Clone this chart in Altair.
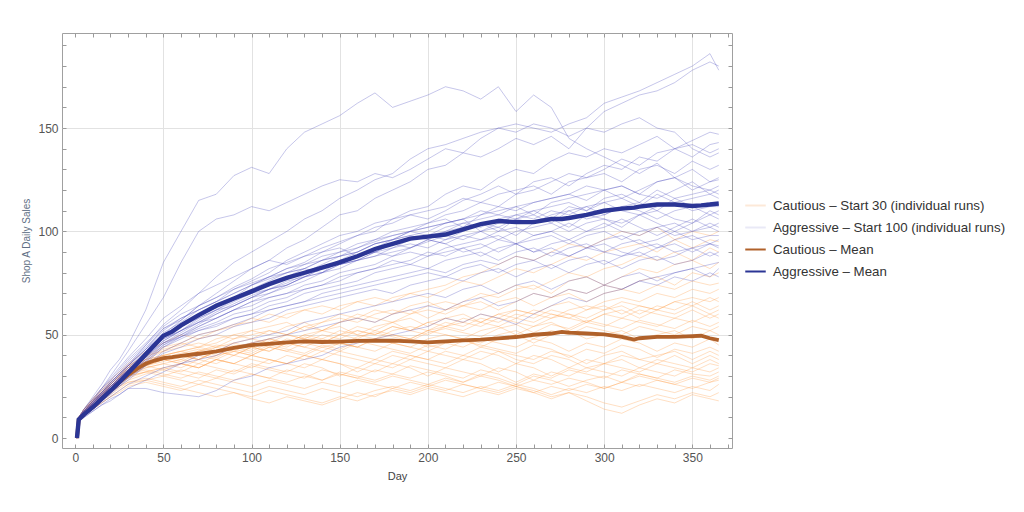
import altair as alt
import pandas as pd

# ---------------- data ----------------
DAYS = [1, 2, 5, 10, 15, 20, 25, 30,
        40, 50, 60, 70, 80, 90, 100,
        110, 120, 130, 140, 150, 160, 170, 180, 190, 200,
        210, 220, 230, 240, 250, 260, 270, 280, 290, 300,
        310, 320, 330, 340, 350, 360, 365]

CAUTIOUS_RUNS = [
    [0,9,13,18,23,27,31,35, 40,44,46,50,52,55,56, 60,58,62,64,62,66,68,66,70,72, 74,78,80,84,88,86,90,94,92,96, 100,98,102,96,100,98,100],
    [0,10,14,19,24,28,32,36, 42,46,50,48,52,54,58, 56,60,62,60,64,66,64,68,70,68, 72,76,74,78,82,80,84,88,86,90, 92,94,90,96,92,96,95],
    [0,8,12,16,21,25,29,33, 38,42,44,46,44,48,50, 52,50,54,56,58,56,60,62,60,64, 66,64,68,70,74,72,76,80,78,82, 84,88,86,90,86,92,90],
    [0,9,13,17,22,26,30,34, 39,43,45,48,50,48,52, 54,56,52,56,60,58,62,60,64,66, 62,66,70,68,72,74,70,76,78,74, 78,82,80,84,86,82,85],
    [0,9,12,16,20,24,28,32, 36,40,42,44,46,50,48, 52,50,54,52,56,58,56,60,62,58, 62,64,66,62,66,70,68,72,70,74, 72,76,78,74,80,78,80],
    [0,10,13,18,22,26,30,35, 40,42,46,44,48,50,52, 50,54,56,52,56,60,58,56,60,62, 60,64,62,66,68,64,68,70,66,70, 72,70,74,72,76,74,75],
    [0,8,11,15,19,23,27,31, 35,38,40,42,45,44,46, 48,46,50,52,50,54,52,56,58,54, 58,60,56,60,62,60,64,66,62,66, 68,66,70,68,72,70,72],
    [0,9,13,17,21,25,29,33, 37,40,42,40,44,46,44, 48,50,48,52,54,50,54,56,52,56, 58,56,60,58,62,60,58,62,64,62, 66,64,62,66,68,66,68],
    [0,9,12,16,20,24,28,31, 35,38,40,42,40,44,46, 44,48,46,50,48,52,50,54,52,56, 54,58,56,60,58,62,60,58,62,64, 60,64,62,66,64,68,66],
    [0,10,14,19,23,27,31,35, 38,40,38,42,44,42,46, 48,46,50,48,52,50,48,52,54,52, 56,54,58,56,60,58,62,60,58,62, 64,60,64,62,66,62,64],
    [0,8,12,16,20,24,28,32, 36,38,40,38,42,44,42, 46,44,48,46,50,48,52,50,48,52, 54,52,56,54,58,56,60,58,56,60, 62,58,62,60,64,60,62],
    [0,9,13,18,22,26,30,34, 38,40,42,44,42,46,48, 46,50,48,46,50,52,50,54,52,50, 54,56,54,58,56,54,58,60,56,60, 58,62,60,58,62,58,60],
    [0,9,12,16,20,24,27,31, 35,37,40,38,42,40,44, 42,46,44,48,46,44,48,50,48,52, 50,48,52,54,50,54,56,52,56,54, 58,56,54,58,56,60,58],
    [0,10,13,17,21,25,29,33, 37,39,41,43,41,45,43, 47,45,49,47,45,49,51,49,47,51, 53,51,49,53,55,51,55,53,57,55, 53,57,55,53,57,54,56],
    [0,8,11,15,19,23,26,30, 34,36,38,36,40,42,40, 44,42,46,44,42,46,48,46,44,48, 50,48,46,50,52,48,52,50,54,52, 50,54,52,50,54,52,54],
    [0,9,12,16,20,24,28,32, 36,38,36,40,38,42,40, 44,42,40,44,46,44,42,46,48,44, 46,48,44,48,50,46,50,52,48,50, 52,48,50,52,48,52,50],
    [0,9,13,17,21,25,29,33, 36,38,40,38,42,40,44, 42,46,44,42,46,44,48,46,44,42, 46,44,48,46,44,48,46,42,46,44, 48,46,42,46,44,48,45],
    [0,10,14,18,22,26,30,34, 37,39,37,41,39,43,41, 45,43,41,45,43,47,45,43,41,45, 43,47,45,43,41,45,43,39,43,41, 45,43,39,43,41,44,42],
    [0,8,11,15,19,22,26,29, 32,34,36,34,38,36,40, 38,36,40,38,42,40,38,42,40,38, 42,40,44,42,40,38,42,40,36,40, 42,38,40,42,38,42,40],
    [0,9,12,16,20,24,27,31, 34,36,34,38,36,40,38, 36,40,38,42,40,38,36,40,38,42, 40,38,42,40,36,40,38,34,38,36, 40,38,36,40,36,40,38],
    [0,9,13,17,21,25,28,32, 35,33,36,34,38,36,34, 38,36,40,38,36,34,38,36,40,38, 36,40,38,42,38,36,40,38,34,36, 38,34,38,36,34,38,36],
    [0,10,13,18,22,26,30,33, 36,38,36,34,38,36,40, 38,36,34,38,36,32,36,34,38,36, 34,38,36,32,36,34,30,34,32,36, 34,32,36,34,32,36,35],
    [0,8,12,16,19,23,26,30, 32,34,32,36,34,32,36, 34,32,36,34,30,34,32,36,34,30, 34,32,30,34,32,28,32,30,34,32, 30,34,32,30,34,32,34],
    [0,9,12,15,19,22,25,28, 31,33,31,29,33,31,35, 33,31,29,33,31,29,33,31,35,33, 31,29,33,31,27,31,29,33,31,29, 33,31,29,33,31,30,32],
    [0,9,13,17,20,24,27,30, 32,30,33,31,29,33,31, 29,33,31,28,32,30,28,31,29,32, 30,27,31,29,26,30,28,25,28,30, 27,31,29,27,30,28,30],
    [0,10,14,18,21,25,28,31, 33,31,29,32,30,28,31, 29,27,30,28,31,29,27,30,28,26, 29,27,30,28,25,28,26,29,27,24, 27,30,28,26,29,27,29],
    [0,8,11,14,17,20,23,26, 28,30,28,26,29,27,25, 28,26,24,27,25,28,26,24,27,25, 28,26,24,27,25,22,25,23,26,24, 27,25,28,26,24,27,28],
    [0,9,12,15,18,21,24,27, 29,27,25,28,26,24,22, 25,23,21,24,22,20,23,25,23,26, 24,22,25,23,26,24,21,24,22,25, 23,26,24,22,25,23,26],
    [0,9,11,14,17,20,22,25, 27,25,23,26,24,22,20, 23,21,19,17,20,18,21,23,21,24, 22,20,23,21,24,22,19,22,20,17, 15,18,21,19,22,20,22],
    [0,10,13,16,19,22,25,27, 28,26,24,22,20,22,19, 17,20,18,16,19,22,20,24,22,25, 23,26,24,22,25,23,20,22,18,14, 12,16,19,17,21,19,18],
]

AGGRESSIVE_RUNS = [
    [0,10,14,20,26,33,38,45, 62,85,100,115,118,127,131, 128,140,148,152,156,162,167,160,163,166, 170,168,164,170,158,166,160,145,140,136, 132,128,133,126,130,124,126],
    [0,9,13,18,24,30,36,42, 55,68,85,100,106,108,112, 110,114,118,122,125,124,128,126,130,135, 140,138,145,150,148,152,150,146,150,148, 152,155,150,148,140,136,138],
    [0,8,12,17,22,27,31,35, 45,55,62,70,78,85,90, 95,100,106,110,116,120,125,128,135,140, 142,145,148,150,152,150,148,152,155,162, 165,168,172,176,180,186,178],
    [0,9,12,16,20,24,29,33, 42,50,57,64,70,76,82, 86,92,96,102,108,110,116,120,124,130, 132,138,136,140,145,142,146,140,150,158, 162,166,168,172,178,182,180],
    [0,9,12,16,21,25,29,33, 41,49,54,60,65,68,74, 78,82,85,90,94,98,100,106,110,112, 118,122,120,126,130,128,134,138,136,140, 138,142,146,140,144,148,147],
    [0,8,11,15,19,23,27,31, 39,47,52,57,62,67,70, 74,78,82,80,86,90,94,96,100,104, 108,110,114,112,118,120,124,128,126,130, 135,132,138,140,136,142,143],
    [0,10,13,18,22,27,31,36, 44,52,58,62,66,72,76, 80,86,90,94,98,100,104,106,108,106, 110,115,118,122,118,124,126,122,128,132, 130,136,134,140,142,138,140],
    [0,9,12,17,21,26,30,35, 43,53,57,64,68,73,77, 82,85,88,92,95,98,102,104,108,110, 112,116,114,118,120,122,118,124,126,128, 124,130,132,128,134,130,132],
    [0,9,11,15,19,23,26,30, 37,45,50,55,60,64,68, 72,74,78,82,86,88,92,96,98,100, 104,106,108,112,110,114,116,118,115,120, 122,118,124,126,120,124,125],
    [0,8,12,16,20,25,29,34, 42,50,55,60,63,68,70, 75,78,80,84,88,90,94,96,100,102, 104,106,110,108,112,114,116,118,122,120, 116,120,124,126,122,120,122],
    [0,9,12,17,22,26,31,35, 43,51,56,62,66,70,74, 78,82,84,88,90,94,96,100,102,104, 106,102,108,110,112,108,114,116,118,120, 122,118,116,120,124,118,120],
    [0,10,14,19,24,28,33,38, 46,54,60,64,68,72,75, 78,80,82,86,88,92,95,98,100,98, 102,104,106,108,106,110,112,114,110,116, 118,114,120,116,118,120,118],
    [0,9,12,16,20,24,28,32, 40,47,52,56,61,65,69, 72,75,79,82,86,88,90,94,96,98, 100,104,102,106,108,110,106,112,110,114, 116,112,118,114,116,118,116],
    [0,8,11,15,19,22,26,30, 38,46,51,56,60,64,68, 70,74,78,80,84,86,90,92,96,98, 96,100,104,102,106,108,104,110,112,108, 112,114,110,116,112,114,114],
    [0,9,12,17,21,25,29,33, 41,49,55,59,64,68,72, 76,80,82,86,90,92,96,98,100,102, 104,106,100,104,108,106,110,108,112,114, 110,108,112,114,110,112,112],
    [0,9,13,18,23,28,32,37, 45,53,58,62,66,70,74, 77,80,84,86,88,90,94,96,98,96, 100,102,104,100,106,104,108,110,106,108, 112,110,106,110,112,108,110],
    [0,8,11,15,18,22,25,29, 36,44,49,54,58,62,66, 70,73,76,80,82,86,88,90,92,95, 98,96,100,102,98,104,106,102,108,106, 104,108,110,106,104,110,108],
    [0,9,12,16,20,24,28,32, 40,48,52,58,62,66,70, 72,76,78,82,84,86,88,92,94,92, 96,98,100,96,100,102,104,100,104,106, 102,108,104,100,104,108,106],
    [0,10,13,18,22,27,31,35, 43,50,54,58,62,64,68, 72,74,78,80,84,86,90,88,92,96, 94,98,96,100,102,98,100,104,100,102, 106,102,98,102,106,102,104],
    [0,9,12,16,21,25,28,32, 39,46,50,54,58,62,64, 68,70,74,76,80,82,84,88,90,88, 92,94,96,98,94,98,100,96,100,104, 100,98,102,104,100,104,102],
    [0,8,11,15,19,23,27,31, 38,45,49,53,56,60,62, 66,68,72,74,76,80,82,84,86,90, 88,92,94,90,94,96,98,94,98,100, 96,100,102,98,100,102,100],
    [0,9,13,17,22,26,30,34, 41,48,52,56,58,62,66, 68,70,72,74,78,80,82,86,84,88, 90,92,88,92,94,90,94,96,92,96, 98,94,96,100,96,98,98],
    [0,9,12,16,20,24,27,31, 37,44,48,52,55,58,60, 64,66,70,72,74,76,80,82,84,82, 86,88,90,86,90,92,88,92,94,90, 94,96,92,96,98,94,96],
    [0,8,11,14,18,21,25,28, 35,42,46,50,52,55,58, 62,64,66,70,72,74,76,78,80,82, 80,84,86,84,88,86,90,88,92,90, 88,92,94,90,92,94,93],
    [0,10,13,17,21,25,29,33, 40,46,49,52,54,58,60, 62,64,66,68,70,72,74,76,78,80, 78,82,84,80,84,86,82,86,88,84, 88,90,86,88,92,88,90],
    [0,9,12,15,19,22,26,29, 35,41,44,48,50,54,56, 58,62,64,66,68,70,72,70,74,76, 78,76,80,82,78,82,84,80,84,86, 82,86,88,84,86,90,88],
    [0,8,10,13,16,19,21,24, 24,22,21,20,23,28,30, 34,36,38,40,44,46,48,50,52,54, 58,56,60,58,55,60,64,68,66,70, 72,76,78,80,82,84,85],
    [0,9,11,14,17,20,23,26, 30,34,36,40,42,46,48, 50,52,56,58,60,62,64,66,68,70, 68,72,74,70,74,76,72,76,78,74, 78,80,76,80,82,78,82],
    [0,8,10,13,16,18,21,24, 28,32,36,38,40,44,46, 48,50,52,54,56,58,56,60,62,64, 62,66,68,64,66,70,68,72,70,74, 72,76,74,78,76,80,78],
    [0,10,14,19,24,29,34,39, 48,58,64,70,74,78,82, 86,84,88,90,92,88,90,94,92,96, 94,90,92,96,94,90,92,88,92,94, 90,88,92,94,90,94,92],
]

MEAN_DAYS = [1, 2, 5, 10, 15, 20, 25, 30, 35, 40, 45, 50, 55, 60, 70, 80, 90,
             100, 110, 120, 130, 140, 150, 160, 170, 180, 190, 200, 210, 220,
             230, 240, 250, 260, 270, 276, 280, 290, 300, 310, 317, 320, 330,
             340, 350, 355, 360, 365]
CAUTIOUS_MEAN = [0, 9, 11.5, 15, 19, 23, 27, 30.5, 33.5, 36, 37.5, 38.7, 39.2, 39.8,
                 40.8, 42, 43.6, 45, 45.6, 46.3, 46.8, 46.5, 46.7, 47, 47.1, 47.2,
                 46.8, 46.3, 46.8, 47.3, 47.6, 48.2, 48.9, 50, 50.6, 51.4, 51, 50.6,
                 50.2, 49, 47.7, 48.3, 49, 49, 49.3, 49.5, 48.3, 47.4]
AGGRESSIVE_MEAN = [0, 9, 11.5, 15, 19, 23, 27, 31.5, 36, 40.5, 45, 49.5, 51.5, 54.5,
                   59.5, 64, 67.5, 71, 74.5, 77.5, 80, 82.5, 85, 88, 91.5, 94, 96.5,
                   97.5, 98.5, 101, 103.5, 105, 104.5, 104.5, 106, 106, 106.5, 108,
                   110, 111, 111.5, 112, 113, 113, 112.3, 112.6, 113, 113.5]

SERIES = ["Cautious \u2013 Start 30 (individual runs)",
          "Aggressive \u2013 Start 100 (individual runs)",
          "Cautious \u2013 Mean",
          "Aggressive \u2013 Mean"]
SERIES_COLORS = ["#fde9d8", "#e9e9f6", "#b0612a", "#2b3595"]

X_MAJOR = [0, 50, 100, 150, 200, 250, 300, 350]
Y_MAJOR = [0, 50, 100, 150]
X_MINOR = list(range(0, 371, 10))
Y_MINOR = list(range(0, 191, 10))

# ---------------- build tables ----------------
run_rows = []
for grp, runs in (("c", CAUTIOUS_RUNS), ("a", AGGRESSIVE_RUNS)):
    for i, run in enumerate(runs):
        assert len(run) == len(DAYS), (grp, i, len(run))
        for d, v in zip(DAYS, run):
            run_rows.append({"day": d, "value": v, "run": f"{grp}{i}", "group": grp})
runs_df = pd.DataFrame(run_rows)

mean_rows = []
for name, vals in ((SERIES[2], CAUTIOUS_MEAN), (SERIES[3], AGGRESSIVE_MEAN)):
    assert len(vals) == len(MEAN_DAYS), name
    for d, v in zip(MEAN_DAYS, vals):
        mean_rows.append({"day": d, "value": v, "series": name})
mean_df = pd.DataFrame(mean_rows)

FONT = "Liberation Sans"
xs = alt.Scale(domain=[-7.5, 372.5], nice=False, zero=False)
ys = alt.Scale(domain=[-4.8, 196], nice=False, zero=False)

color_scale = alt.Scale(domain=SERIES, range=SERIES_COLORS)
legend = alt.Legend(orient="none", legendX=682, legendY=161, title=None,
                    symbolType="stroke", symbolStrokeWidth=2, symbolSize=420,
                    labelFont=FONT, labelFontSize=13.3, labelColor="#333333",
                    labelOffset=6, rowPadding=4, labelLimit=0, symbolOpacity=1)

# axes
x_labeled = alt.Axis(orient="bottom", values=X_MAJOR, grid=False, ticks=False, domain=False,
                     labelFont=FONT, labelFontSize=12, labelColor="#555555", labelPadding=4,
                     title="Day", titleFont=FONT, titleFontSize=11, titleFontWeight="normal",
                     titleColor="#444444", titlePadding=7)
y_labeled = alt.Axis(orient="left", values=Y_MAJOR, grid=False, ticks=False, domain=False,
                     labelFont=FONT, labelFontSize=12, labelColor="#555555", labelPadding=4,
                     title="Shop A Daily Sales", titleFont=FONT, titleFontSize=10,
                     titleFontWeight="normal", titleColor="#5f6f84", titlePadding=6)
x_grid = alt.Axis(orient="bottom", values=X_MAJOR[1:], grid=True, gridColor="#e2e2e2",
                  ticks=False, labels=False, domain=False, title=None)
y_grid = alt.Axis(orient="left", values=Y_MAJOR[1:], grid=True, gridColor="#e2e2e2",
                  ticks=False, labels=False, domain=False, title=None)


def tick_axis(orient, values):
    return alt.Axis(orient=orient, values=values, grid=False, labels=False, domain=False,
                    ticks=True, tickSize=4, tickColor="#9a9a9a", offset=-4, title=None)


base_x = dict(field="day", type="quantitative", scale=xs)
base_y = dict(field="value", type="quantitative", scale=ys)

cautious_runs = alt.Chart(runs_df).transform_filter("datum.group === 'c'").mark_line(
    color="#ff9a45", strokeWidth=0.9, strokeOpacity=0.36
).encode(
    x=alt.X(**base_x, axis=x_labeled),
    y=alt.Y(**base_y, axis=y_labeled),
    detail="run:N",
)

aggressive_runs = alt.Chart(runs_df).transform_filter("datum.group === 'a'").mark_line(
    color="#4444bb", strokeWidth=0.9, strokeOpacity=0.34
).encode(
    x=alt.X(**base_x, axis=x_grid),
    y=alt.Y(**base_y, axis=y_grid),
    detail="run:N",
)

cautious_mean = alt.Chart(mean_df).transform_filter(
    alt.datum.series == SERIES[2]
).mark_line(strokeWidth=3.8).encode(
    x=alt.X(**base_x, axis=tick_axis("bottom", X_MINOR)),
    y=alt.Y(**base_y, axis=tick_axis("left", Y_MINOR)),
    color=alt.Color("series:N", scale=color_scale, legend=legend),
)

aggressive_mean = alt.Chart(mean_df).transform_filter(
    alt.datum.series == SERIES[3]
).mark_line(strokeWidth=4.4).encode(
    x=alt.X(**base_x, axis=tick_axis("top", X_MINOR)),
    y=alt.Y(**base_y, axis=tick_axis("right", Y_MINOR)),
    color=alt.Color("series:N", scale=color_scale, legend=legend),
)

chart = alt.layer(
    cautious_runs, aggressive_runs, cautious_mean, aggressive_mean
).resolve_axis(
    x="independent", y="independent"
).properties(
    width=670, height=415,
    padding={"left": 13, "top": 24, "right": 0, "bottom": 5},
).configure_view(
    stroke="#a0a0a0", strokeWidth=1
)

chart.save("out.html", embed_options={"renderer": "svg", "actions": False})
